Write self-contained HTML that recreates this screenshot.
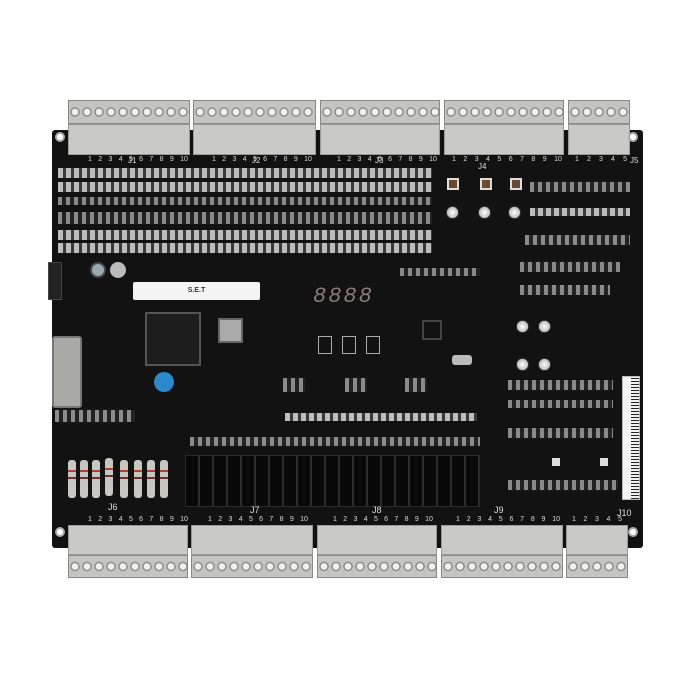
<!DOCTYPE html>
<html><head><style>
body{margin:0;width:696px;height:688px;background:#fff;position:relative;overflow:hidden;font-family:"Liberation Sans",sans-serif}
div{position:absolute;box-sizing:border-box}
.board{left:52px;top:130px;width:591px;height:418px;background:#121213;border-radius:3px}
.tb{background:#c9c9c8;border:1px solid #999}
.screw{background:radial-gradient(circle at 50% 50%,#f0f0ee 0 3px,#8e8e8c 3.5px 4.5px,#c4c4c2 5px);background-size:12px 100%;border:1px solid #888}
.row{background:repeating-linear-gradient(90deg,#bdbdbd 0 5px,#3a3a3a 5px 8px)}
.rowd{background:repeating-linear-gradient(90deg,#8a8a8a 0 4px,#222 4px 8px)}
.num{color:#ddd;font-size:7px;white-space:nowrap;display:flex;justify-content:space-between}
.hole{width:10px;height:10px;border-radius:50%;background:#fff;border:2px solid #aaa}
.relay{background:#050505;border:1px solid #2a2a2a}
.res{width:8px;height:38px;background:#c8c6c0;border-radius:3px;background-image:linear-gradient(#c8c6c0 10px,#b04030 10px 12px,#c8c6c0 12px 17px,#703030 17px 19px,#c8c6c0 19px)}
.cap{width:13px;height:13px;border-radius:50%;background:radial-gradient(#fff,#bbb 60%,#333 62%)}
</style></head><body>
<div class="screw" style="left:68px;top:100px;width:122px;height:24px"></div>
<div class="screw" style="left:193px;top:100px;width:123px;height:24px"></div>
<div class="screw" style="left:320px;top:100px;width:120px;height:24px"></div>
<div class="screw" style="left:444px;top:100px;width:120px;height:24px"></div>
<div class="screw" style="left:568px;top:100px;width:62px;height:24px"></div>
<div class="board"></div>
<div class="tb" style="left:68px;top:124px;width:122px;height:31px"></div>
<div class="tb" style="left:193px;top:124px;width:123px;height:31px"></div>
<div class="tb" style="left:320px;top:124px;width:120px;height:31px"></div>
<div class="tb" style="left:444px;top:124px;width:120px;height:31px"></div>
<div class="tb" style="left:568px;top:124px;width:62px;height:31px"></div>
<div class="num" style="left:88px;top:156px;width:100px"><span>1</span><span>2</span><span>3</span><span>4</span><span>5</span><span>6</span><span>7</span><span>8</span><span>9</span><span>10</span></div>
<div class="num" style="left:212px;top:156px;width:100px"><span>1</span><span>2</span><span>3</span><span>4</span><span>5</span><span>6</span><span>7</span><span>8</span><span>9</span><span>10</span></div>
<div class="num" style="left:337px;top:156px;width:100px"><span>1</span><span>2</span><span>3</span><span>4</span><span>5</span><span>6</span><span>7</span><span>8</span><span>9</span><span>10</span></div>
<div class="num" style="left:452px;top:156px;width:110px"><span>1</span><span>2</span><span>3</span><span>4</span><span>5</span><span>6</span><span>7</span><span>8</span><span>9</span><span>10</span></div>
<div class="num" style="left:575px;top:156px;width:52px"><span>1</span><span>2</span><span>3</span><span>4</span><span>5</span></div>
<div style="left:128px;top:156px;color:#ddd;font-size:8px">J1</div>
<div style="left:252px;top:156px;color:#ddd;font-size:8px">J2</div>
<div style="left:375px;top:156px;color:#ddd;font-size:8px">J3</div>
<div style="left:478px;top:162px;color:#ddd;font-size:8px">J4</div>
<div style="left:630px;top:156px;color:#ddd;font-size:8px">J5</div>
<div class="hole" style="left:55px;top:132px"></div>
<div class="hole" style="left:628px;top:132px"></div>
<div class="hole" style="left:55px;top:527px"></div>
<div class="hole" style="left:628px;top:527px"></div>
<div class="row" style="left:58px;top:168px;width:374px;height:10px"></div>
<div class="row" style="left:58px;top:182px;width:374px;height:10px"></div>
<div class="rowd" style="left:58px;top:197px;width:374px;height:8px"></div>
<div class="rowd" style="left:58px;top:212px;width:374px;height:12px"></div>
<div class="row" style="left:58px;top:230px;width:374px;height:10px"></div>
<div class="row" style="left:58px;top:243px;width:374px;height:10px"></div>
<div style="left:447px;top:178px;width:12px;height:12px;background:#6b4a30;border:2px solid #ddd"></div>
<div style="left:480px;top:178px;width:12px;height:12px;background:#6b4a30;border:2px solid #ddd"></div>
<div style="left:510px;top:178px;width:12px;height:12px;background:#6b4a30;border:2px solid #ddd"></div>
<div class="cap" style="left:446px;top:206px"></div><div class="cap" style="left:478px;top:206px"></div><div class="cap" style="left:508px;top:206px"></div>
<div class="rowd" style="left:530px;top:182px;width:100px;height:10px"></div>
<div class="row" style="left:530px;top:208px;width:100px;height:8px"></div>
<div class="rowd" style="left:525px;top:235px;width:105px;height:10px"></div>
<div class="rowd" style="left:520px;top:262px;width:100px;height:10px"></div>
<div class="rowd" style="left:520px;top:285px;width:90px;height:10px"></div>
<div class="rowd" style="left:400px;top:268px;width:80px;height:8px"></div>
<div style="left:133px;top:282px;width:127px;height:18px;background:#f4f4f4;border-radius:2px;font-size:7px;font-weight:bold;text-align:center;line-height:18px;color:#333">S.E.T</div>
<div style="left:90px;top:262px;width:16px;height:16px;border-radius:50%;background:#9aa;border:2px solid #445"></div>
<div style="left:110px;top:262px;width:16px;height:16px;border-radius:50%;background:#bbb"></div>
<div style="left:48px;top:262px;width:14px;height:38px;background:#222;border:1px solid #444"></div>
<div style="left:313px;top:284px;width:76px;height:26px;color:#8a7a7a;font-size:22px;font-family:'Liberation Mono';font-style:italic;letter-spacing:2px">8888</div>
<div style="left:145px;top:312px;width:56px;height:54px;background:#1d1d1d;border:2px solid #555"></div>
<div style="left:218px;top:318px;width:25px;height:25px;background:#aaa;border:2px solid #666"></div>
<div style="left:154px;top:372px;width:20px;height:20px;border-radius:50%;background:#2a8acc"></div>
<div style="left:52px;top:336px;width:30px;height:72px;background:#a9a9a6;border:2px solid #777;border-radius:3px"></div>
<div style="left:422px;top:320px;width:20px;height:20px;background:#111;border:2px solid #444"></div>
<div style="left:318px;top:336px;width:14px;height:18px;border:1px solid #aaa"></div><div style="left:342px;top:336px;width:14px;height:18px;border:1px solid #aaa"></div><div style="left:366px;top:336px;width:14px;height:18px;border:1px solid #aaa"></div>
<div style="left:452px;top:355px;width:20px;height:10px;background:#bbb;border-radius:3px"></div>
<div class="cap" style="left:516px;top:320px"></div><div class="cap" style="left:538px;top:320px"></div><div class="cap" style="left:516px;top:358px"></div><div class="cap" style="left:538px;top:358px"></div>
<div class="rowd" style="left:283px;top:378px;width:22px;height:14px"></div>
<div class="rowd" style="left:345px;top:378px;width:22px;height:14px"></div>
<div class="rowd" style="left:405px;top:378px;width:22px;height:14px"></div>
<div class="rowd" style="left:508px;top:380px;width:105px;height:10px"></div>
<div class="rowd" style="left:508px;top:400px;width:105px;height:8px"></div>
<div class="rowd" style="left:55px;top:410px;width:80px;height:12px"></div>
<div class="row" style="left:285px;top:413px;width:192px;height:8px"></div>
<div class="rowd" style="left:190px;top:437px;width:290px;height:9px"></div>
<div class="rowd" style="left:508px;top:428px;width:105px;height:10px"></div>
<div class="relay" style="left:185px;top:455px;width:295px;height:52px;background:repeating-linear-gradient(90deg,#080808 0 12px,#2c2c2c 12px 14px)"></div>
<div class="res" style="left:68px;top:460px"></div><div class="res" style="left:80px;top:460px"></div><div class="res" style="left:92px;top:460px"></div><div class="res" style="left:105px;top:458px"></div><div class="res" style="left:120px;top:460px"></div><div class="res" style="left:134px;top:460px"></div><div class="res" style="left:147px;top:460px"></div><div class="res" style="left:160px;top:460px"></div>
<div style="left:622px;top:376px;width:18px;height:124px;background:#f2f2f2;border:1px solid #bbb;background-image:repeating-linear-gradient(0deg,#222 0 1px,#f2f2f2 1px 3px);background-size:8px 100%;background-repeat:no-repeat;background-position:right"></div>
<div style="left:552px;top:458px;width:8px;height:8px;background:#ddd"></div><div style="left:600px;top:458px;width:8px;height:8px;background:#ddd"></div>
<div class="rowd" style="left:508px;top:480px;width:110px;height:10px"></div>
<div class="num" style="left:88px;top:516px;width:100px"><span>1</span><span>2</span><span>3</span><span>4</span><span>5</span><span>6</span><span>7</span><span>8</span><span>9</span><span>10</span></div>
<div class="num" style="left:208px;top:516px;width:100px"><span>1</span><span>2</span><span>3</span><span>4</span><span>5</span><span>6</span><span>7</span><span>8</span><span>9</span><span>10</span></div>
<div class="num" style="left:333px;top:516px;width:100px"><span>1</span><span>2</span><span>3</span><span>4</span><span>5</span><span>6</span><span>7</span><span>8</span><span>9</span><span>10</span></div>
<div class="num" style="left:456px;top:516px;width:104px"><span>1</span><span>2</span><span>3</span><span>4</span><span>5</span><span>6</span><span>7</span><span>8</span><span>9</span><span>10</span></div>
<div class="num" style="left:572px;top:516px;width:50px"><span>1</span><span>2</span><span>3</span><span>4</span><span>5</span></div>
<div style="left:108px;top:502px;color:#ddd;font-size:9px">J6</div><div style="left:250px;top:505px;color:#ddd;font-size:9px">J7</div><div style="left:372px;top:505px;color:#ddd;font-size:9px">J8</div><div style="left:494px;top:505px;color:#ddd;font-size:9px">J9</div><div style="left:617px;top:508px;color:#ddd;font-size:9px">J10</div>
<div class="tb" style="left:68px;top:525px;width:120px;height:30px"></div>
<div class="tb" style="left:191px;top:525px;width:122px;height:30px"></div>
<div class="tb" style="left:317px;top:525px;width:120px;height:30px"></div>
<div class="tb" style="left:441px;top:525px;width:122px;height:30px"></div>
<div class="tb" style="left:566px;top:525px;width:62px;height:30px"></div>
<div class="screw" style="left:68px;top:555px;width:120px;height:23px"></div>
<div class="screw" style="left:191px;top:555px;width:122px;height:23px"></div>
<div class="screw" style="left:317px;top:555px;width:120px;height:23px"></div>
<div class="screw" style="left:441px;top:555px;width:122px;height:23px"></div>
<div class="screw" style="left:566px;top:555px;width:62px;height:23px"></div>
</body></html>
